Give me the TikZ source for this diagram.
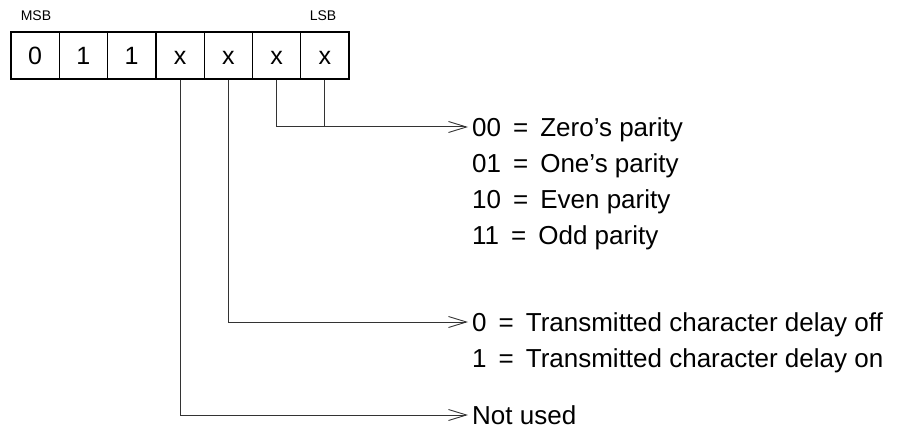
\documentclass[tikz,border=0pt]{standalone}
\usepackage{fontspec}
\setmainfont{Liberation Sans}
\usetikzlibrary{arrows.meta}
\begin{document}
\begin{tikzpicture}[x=1pt,y=-1pt,
  bitbox/.style={draw, line width=1.3pt, minimum width=48.3pt, minimum height=47pt, inner sep=0pt, text height=17.5pt, text depth=0pt, font=\fontsize{25}{28}\selectfont},
  tag/.style={inner sep=0pt, font=\fontsize{14}{16}\selectfont},
  desc/.style={anchor=base west, inner sep=0pt, font=\fontsize{26}{30}\selectfont},
  conn/.style={line width=1pt, draw=black!80},
  arr/.style={conn, -{Straight Barb[length=18pt,width=11pt,line width=0.9pt]}}]
\useasboundingbox (0,0) rectangle (898,428);
\newcommand{\eqs}{\hspace{12pt}=\hspace{12pt}}
% bit boxes
\node[bitbox] (b6) at (35.1,55.5) {0};
\node[bitbox] (b5) at (83.4,55.5) {1};
\node[bitbox] (b4) at (131.7,55.5) {1};
\node[bitbox] (b3) at (180.0,55.5) {x};
\node[bitbox] (b2) at (228.3,55.5) {x};
\node[bitbox] (b1) at (276.6,55.5) {x};
\node[bitbox] (b0) at (324.9,55.5) {x};
\node[tag] (msb) at (36,16) {MSB};
\node[tag] (lsb) at (323,16) {LSB};
% arrow end points
\coordinate (t0) at (468,127);
\coordinate (t2) at (468,322);
\coordinate (t3) at (468,415);
% connectors
\draw[conn] (b0.south) -- (b0.south |- t0);
\draw[arr] (b1.south) |- (t0);
\draw[arr] (b2.south) |- (t2);
\draw[arr] (b3.south) |- (t3);
% descriptions
\node[desc] (p00) at (472,136) {00\eqs Zero’s parity};
\node[desc] (p01) at (472,172) {01\eqs One’s parity};
\node[desc] (p10) at (472,208) {10\eqs Even parity};
\node[desc] (p11) at (472,244) {11\eqs Odd parity};
\node[desc] (d0) at (472,331) {0\eqs Transmitted character delay off};
\node[desc] (d1) at (472,367) {1\eqs Transmitted character delay on};
\node[desc] (nu) at (472,424) {Not used};
\end{tikzpicture}
\end{document}
